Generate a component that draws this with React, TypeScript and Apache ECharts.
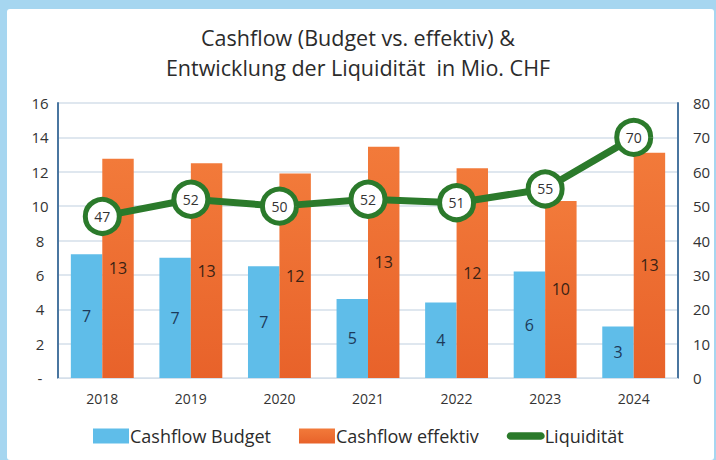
import React, { useEffect, useRef } from "react";
import * as echarts from "echarts";

const categories = ["2018", "2019", "2020", "2021", "2022", "2023", "2024"];
const budget = [7.2, 7.0, 6.5, 4.6, 4.4, 6.2, 3.0];
const effektiv = [12.75, 12.5, 11.9, 13.45, 12.2, 10.3, 13.1];
const liquiditaet = [47, 52, 50, 52, 51, 55, 70];
const leftTicks = { min: 0, max: 16, interval: 2 };
const rightTicks = { min: 0, max: 80, interval: 10 };
const titleLines = ["Cashflow (Budget vs. effektiv) &", "Entwicklung der Liquidität  in Mio. CHF"];

const FONT = "'Open Sans', 'Noto Sans', sans-serif";
const GREEN = "#2b7a2b";

export default function App() {
  const ref = useRef<HTMLDivElement>(null);
  useEffect(() => {
    document.body.style.margin = "0";
    const chart = echarts.init(ref.current!, null, { renderer: "svg" });
    chart.setOption({
      animation: false,
      backgroundColor: "#ffffff",
      textStyle: { fontFamily: FONT },
      graphic: [
        {
          type: "rect",
          z: -10,
          silent: true,
          shape: { x: 0, y: 0, width: 716, height: 460 },
          style: { fill: "#a6d6f0" },
        },
        {
          type: "rect",
          z: -9,
          silent: true,
          shape: { x: 7, y: 9, width: 707, height: 451, r: 3 },
          style: { fill: "#ffffff" },
        },
        {
          type: "text",
          left: "center",
          top: 26,
          style: { text: titleLines[0], fontSize: 21.5, fill: "#2b2b2b", fontFamily: FONT },
        },
        {
          type: "text",
          left: "center",
          top: 56,
          style: { text: titleLines[1], fontSize: 21.5, fill: "#2b2b2b", fontFamily: FONT },
        },
      ],
      legend: {
        bottom: 10,
        left: 88,
        itemGap: 28,
        itemWidth: 36,
        itemHeight: 15,
        textStyle: { fontSize: 18, color: "#2b2b2b", fontFamily: FONT, padding: [0, 0, 0, -4] },
        data: [
          { name: "Cashflow Budget", icon: "rect" },
          { name: "Cashflow effektiv", icon: "rect" },
          {
            name: "Liquidität",
            icon: "path://M0,0 M40,16 M3,5 L37,5 A3,3 0 0 1 37,11 L3,11 A3,3 0 0 1 3,5 Z",
            itemStyle: { color: GREEN },
          },
        ],
      },
      grid: { left: 58, right: 38, top: 103, bottom: 82 },
      xAxis: {
        type: "category",
        data: categories,
        axisLine: { lineStyle: { color: "#d5dfea" } },
        axisTick: { show: false },
        axisLabel: { fontSize: 14, color: "#333333", margin: 13, fontFamily: FONT },
      },
      yAxis: [
        {
          type: "value",
          ...leftTicks,
          axisLine: { show: true, lineStyle: { color: "#4a76a0", width: 2 } },
          axisTick: { show: false },
          splitLine: { lineStyle: { color: "#d5dfea", width: 1.5 } },
          axisLabel: {
            fontSize: 15,
            color: "#333333",
            margin: 18,
            fontFamily: FONT,
            align: "center",
            formatter: (v: number) => (v === 0 ? "-" : String(v)),
          },
        },
        {
          type: "value",
          ...rightTicks,
          axisLine: { show: true, lineStyle: { color: "#4a76a0", width: 2 } },
          axisTick: { show: false },
          splitLine: { show: false },
          axisLabel: { fontSize: 15, color: "#333333", margin: 15, fontFamily: FONT },
        },
      ],
      series: [
        {
          name: "Cashflow Budget",
          type: "bar",
          data: budget,
          barGap: "0%",
          barCategoryGap: "29%",
          itemStyle: { color: "#5fbde9" },
          label: {
            show: true,
            position: "inside",
            fontSize: 16,
            color: "#1d3a5a",
            fontFamily: FONT,
            formatter: (p: any) => String(Math.round(p.value)),
          },
        },
        {
          name: "Cashflow effektiv",
          type: "bar",
          data: effektiv,
          itemStyle: {
            color: new echarts.graphic.LinearGradient(0, 0, 0, 1, [
              { offset: 0, color: "#f27a3a" },
              { offset: 1, color: "#e8622a" },
            ]),
          },
          label: {
            show: true,
            position: "inside",
            fontSize: 16,
            color: "#3a2214",
            fontFamily: FONT,
            formatter: (p: any) => String(Math.round(p.value)),
          },
        },
        {
          name: "Liquidität",
          type: "line",
          yAxisIndex: 1,
          data: liquiditaet,
          z: 5,
          lineStyle: { color: GREEN, width: 7 },
          itemStyle: { color: "#ffffff", borderColor: GREEN, borderWidth: 5 },
          symbol: "circle",
          symbolSize: 34,
          label: {
            show: true,
            position: "inside",
            fontSize: 14,
            color: "#333333",
            fontFamily: FONT,
          },
        },
      ],
    });
    return () => chart.dispose();
  }, []);
  return <div ref={ref} style={{ width: 716, height: 460 }} />;
}
